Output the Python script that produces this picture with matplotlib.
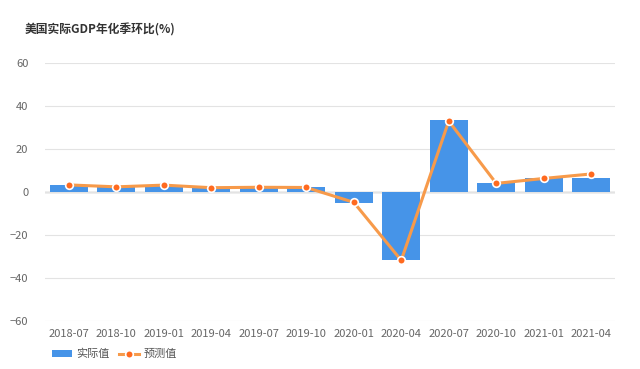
import numpy as np
import matplotlib
matplotlib.use('Agg')
import matplotlib.pyplot as plt

plt.rcParams['font.family'] = ['Noto Sans CJK SC', 'DejaVu Sans']

quarters = ['2018-07', '2018-10', '2019-01', '2019-04', '2019-07', '2019-10',
            '2020-01', '2020-04', '2020-07', '2020-10', '2021-01', '2021-04']
actual = [3.4, 2.2, 3.1, 2.0, 2.0, 2.1, -5.0, -31.4, 33.4, 4.3, 6.3, 6.5]
forecast = [3.3, 2.4, 3.2, 2.0, 2.2, 2.1, -4.8, -31.8, 33.0, 4.0, 6.3, 8.4]

fig = plt.figure(figsize=(6.4, 3.69), dpi=100)
ax = fig.add_axes([45/640, 1-321/369, 570/640, 258/369])

x = np.arange(len(quarters))
bars = ax.bar(x, actual, width=0.8, color='#4694E8', label='实际值', zorder=2)
line, = ax.plot(x, forecast, color='#F79A4A', lw=2.2, marker='o', ms=5.5,
                mfc='#FF6A1F', mec='white', mew=1.2, label='预测值', zorder=3)

ax.set_xlim(-0.5, len(quarters) - 0.5)
ax.set_ylim(-60, 60)
ax.set_yticks([-60, -40, -20, 0, 20, 40, 60])
ax.set_xticks(x)
ax.set_xticklabels(quarters)
ax.grid(axis='y', color='#e3e3e3', lw=0.8, zorder=0)
ax.axhline(0, color='#aaaaaa', lw=1, zorder=1)
for s in ax.spines.values():
    s.set_visible(False)
ax.tick_params(length=0, labelsize=8, colors='#666666', pad=6)
ax.tick_params(axis='y', pad=12)

fig.text(25/640, 1-30/369, '美国实际GDP年化季环比(%)', fontsize=8.5,
         fontweight='bold', color='#333333', va='center')

ax.legend([bars, line], ['实际值', '预测值'], loc='upper left',
          bbox_to_anchor=(-0.005, -0.07), ncol=2, frameon=False,
          fontsize=8, labelcolor='#555555', handlelength=1.8, columnspacing=0.8,
          handletextpad=0.4)

fig.savefig('out.png', dpi=100)
